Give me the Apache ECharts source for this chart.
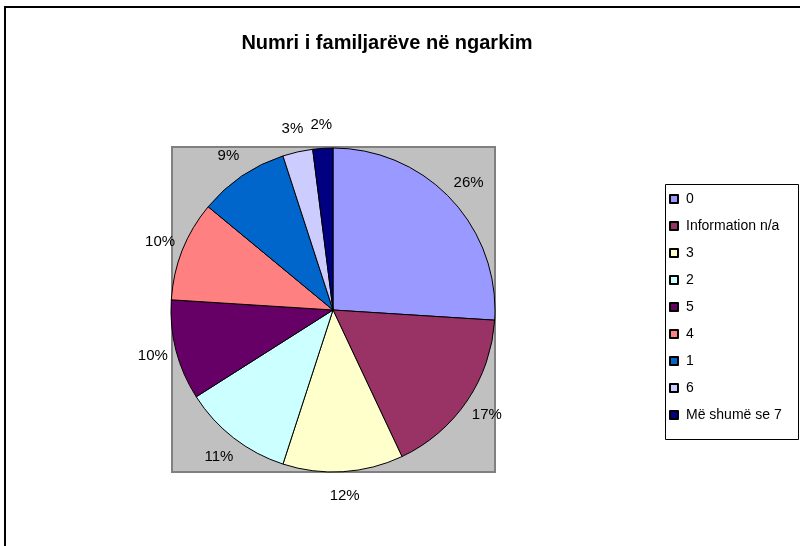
<!DOCTYPE html>
<html>
<head>
<meta charset="utf-8">
<script src="https://cdn.jsdelivr.net/npm/echarts@6/dist/echarts.min.js"></script>
<style>
  html, body { margin: 0; padding: 0; background: #fff; }
  #chart { width: 800px; height: 546px; }
</style>
</head>
<body>
<div id="chart"></div>
<script>
(function () {
  var myChart = echarts.init(document.getElementById("chart"));

  // kategorite dhe perqindjet (sipas etiketave)
  var categories = ["0", "Information n/a", "3", "2", "5", "4", "1", "6", "Më shumë se 7"];
  var values = [26, 17, 12, 11, 10, 10, 9, 3, 2];
  var colors = ["#9999FF", "#993366", "#FFFFCC", "#CCFFFF", "#660066", "#FF8080", "#0066CC", "#CCCCFF", "#000080"];

  var pieData = categories.map(function (name, i) {
    return { name: name, value: values[i], itemStyle: { color: colors[i] } };
  });

  var font = "Liberation Sans, Arial, sans-serif";

  var option = {
    animation: false,
    backgroundColor: "#fff",
    title: {
      text: "Numri i familjarëve në ngarkim",
      left: 382,
      top: 28,
      textAlign: "center",
      textStyle: { fontFamily: font, fontSize: 20, fontWeight: "bold", color: "#000" }
    },
    legend: {
      orient: "vertical",
      left: 669,
      top: 192,
      padding: 0,
      itemWidth: 8,
      itemHeight: 8,
      itemGap: 13,
      icon: "rect",
      data: categories,
      textStyle: { fontFamily: font, fontSize: 14, color: "#000", padding: [0, 0, 0, 3] }
    },
    graphic: [
      // ramja e jashtme
      {
        type: "rect", z: -10,
        shape: { x: 5, y: 7, width: 820, height: 560 },
        style: { fill: "#fff", stroke: "#000", lineWidth: 2 }
      },
      // sfondi gri i grafikut
      {
        type: "rect", z: -5,
        shape: { x: 172, y: 147, width: 323, height: 325 },
        style: { fill: "#C0C0C0", stroke: "#808080", lineWidth: 2 }
      },
      // korniza e legjendes
      {
        type: "rect", z: -5,
        shape: { x: 665.5, y: 184.5, width: 133, height: 255 },
        style: { fill: "#fff", stroke: "#000", lineWidth: 1 }
      }
    ],
    series: [
      {
        type: "pie",
        center: [333, 310],
        radius: 162,
        startAngle: 90,
        clockwise: true,
        avoidLabelOverlap: false,
        itemStyle: { borderColor: "#000", borderWidth: 1 },
        label: {
          show: true,
          position: "outside",
          formatter: "{c}%",
          fontFamily: font,
          fontSize: 15,
          color: "#000",
          distanceToLabelLine: 0
        },
        labelLine: { show: false, length: 24, length2: 0 },
        labelLayout: function () {
          return { align: "center", verticalAlign: "middle" };
        },
        emphasis: { disabled: true },
        data: pieData
      }
    ]
  };

  myChart.setOption(option);
  window.addEventListener("resize", function () {
    myChart.resize();
  });
})();
</script>
</body>
</html>
